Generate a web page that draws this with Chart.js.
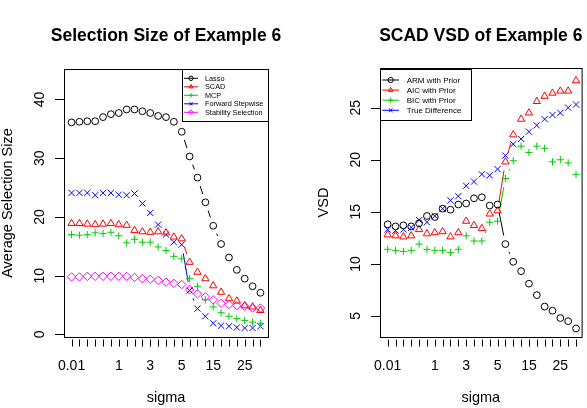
<!DOCTYPE html>
<html>
<head>
<meta charset="utf-8">
<script src="https://cdn.jsdelivr.net/npm/chart.js@4.4.1/dist/chart.umd.min.js"></script>
<style>
  body { margin: 0; background: #fff; }
  #wrap { position: relative; width: 587px; height: 408px; }
  .panel { position: absolute; top: 0; height: 408px; }
</style>
</head>
<body>
<div id="wrap">
  <div class="panel" style="left:0;width:294px"><canvas id="sizeChart"></canvas></div>
  <div class="panel" style="left:294px;width:293px"><canvas id="vsdChart"></canvas></div>
</div>
<script>
// sigma grid (25 settings); only some labels are printed on the axis
const sigmaLabels = ['0.01', '0.05', '0.1', '0.2', '0.3', '0.5', '1', '1.5', '2', '2.5', '3', '3.5', '4', '4.5',
  '5', '7.5', '10', '12.5', '15', '17.5', '20', '22.5', '25', '27.5', '30'];
const shownSigma = ['0.01', '1', '3', '5', '15', '25'];

// left panel: average selection size
const lassoSize = [36.1, 36.2, 36.3, 36.3, 37.0, 37.5, 37.7, 38.3, 38.3, 38.0, 37.7, 37.2, 37.0, 36.2, 34.5,
  30.3, 26.7, 22.5, 18.5, 15.4, 13.1, 11.0, 9.5, 8.2, 7.1];
const scadSize = [18.9, 18.9, 18.8, 18.7, 18.8, 18.9, 18.7, 18.6, 17.7, 17.5, 17.4, 17.5, 17.3, 16.6, 16.3,
  12.3, 10.6, 9.5, 8.3, 7.2, 6.1, 5.7, 4.9, 4.7, 4.1];
const mcpSize = [17.0, 16.9, 17.0, 17.3, 17.2, 17.4, 16.8, 15.6, 16.2, 15.7, 15.7, 14.9, 14.3, 13.3, 12.9,
  9.5, 8.2, 5.9, 4.7, 3.7, 3.1, 2.7, 2.4, 2.1, 1.9];
const stepwiseSize = [24.1, 24.1, 24.1, 23.7, 24.1, 24.1, 23.8, 23.7, 24.0, 22.3, 20.7, 18.7, 17.0, 15.7, 15.3,
  7.5, 4.4, 3.1, 1.9, 1.5, 1.4, 1.2, 1.1, 1.1, 1.4];
const stabilitySize = [9.8, 9.8, 9.9, 9.9, 9.9, 9.9, 9.9, 9.9, 9.7, 9.5, 9.4, 9.2, 8.9, 8.7, 8.5,
  7.6, 6.9, 6.4, 5.9, 5.3, 5.1, 4.9, 4.8, 4.5, 4.5];
const sizeTicks = [0, 10, 20, 30, 40];

// right panel: SCAD VSD
const armVsd = [13.8, 13.6, 13.7, 13.6, 13.9, 14.6, 14.5, 15.3, 15.2, 15.7, 15.8, 16.3, 16.4, 15.6, 15.7,
  11.9, 10.2, 9.3, 8.1, 7.0, 5.9, 5.5, 4.8, 4.5, 3.8];
const aicVsd = [12.8, 12.7, 12.6, 12.7, 13.3, 12.9, 13.0, 13.1, 12.6, 13.0, 14.1, 13.7, 13.4, 14.8, 15.1,
  19.8, 22.4, 23.9, 24.5, 25.6, 26.1, 26.4, 26.6, 26.6, 27.6];
const bicVsd = [11.4, 11.3, 11.2, 11.3, 11.9, 11.4, 11.3, 11.3, 11.1, 11.4, 12.7, 12.2, 12.2, 14.0, 14.1,
  18.2, 19.9, 21.3, 20.7, 21.3, 21.1, 19.8, 20.0, 19.7, 18.6];
const trueDiffVsd = [13.3, 13.2, 13.3, 13.5, 14.2, 14.0, 14.6, 15.3, 16.1, 16.5, 17.5, 17.9, 18.6, 18.5, 19.1,
  20.4, 21.5, 22.0, 22.7, 23.3, 23.9, 24.3, 24.5, 25.0, 25.3];
const vsdTicks = [5, 10, 15, 20, 25];

const FONT = '"Liberation Sans", Arial, sans-serif';

const toXY = (values) => values.map((y, i) => ({ x: i, y }));

function series(label, values, color, pointStyle, pointRadius) {
  return {
    label,
    data: toXY(values),
    borderColor: color,
    pointStyle,
    pointRadius,
    pointHoverRadius: pointRadius,
    pointBorderColor: color,
    pointBackgroundColor: 'rgba(0,0,0,0)',
    pointBorderWidth: 1,
    showLine: false,
  };
}

function drawMarker(ctx, style, x, y, r) {
  ctx.beginPath();
  if (style === 'circle') {
    ctx.arc(x, y, r, 0, Math.PI * 2);
  } else if (style === 'triangle') {
    ctx.moveTo(x, y - r);
    ctx.lineTo(x + r * 0.866, y + r * 0.5);
    ctx.lineTo(x - r * 0.866, y + r * 0.5);
    ctx.closePath();
  } else if (style === 'cross') {
    ctx.moveTo(x - r, y); ctx.lineTo(x + r, y);
    ctx.moveTo(x, y - r); ctx.lineTo(x, y + r);
  } else if (style === 'crossRot') {
    const d = r * 0.707;
    ctx.moveTo(x - d, y - d); ctx.lineTo(x + d, y + d);
    ctx.moveTo(x - d, y + d); ctx.lineTo(x + d, y - d);
  } else if (style === 'rectRot') {
    ctx.moveTo(x, y - r); ctx.lineTo(x + r, y);
    ctx.lineTo(x, y + r); ctx.lineTo(x - r, y);
    ctx.closePath();
  }
  ctx.stroke();
}

function vText(ctx, text, x, y) {
  ctx.save();
  ctx.translate(x, y);
  ctx.rotate(-Math.PI / 2);
  ctx.fillText(text, 0, 0);
  ctx.restore();
}

// base-graphics look: type="b" gapped segments, box, outside ticks, legend
const rPlot = {
  id: 'rPlot',
  beforeDatasetsDraw(chart) {
    const ctx = chart.ctx;
    const gap = 8.7;
    chart.data.datasets.forEach((ds, i) => {
      const pts = chart.getDatasetMeta(i).data;
      ctx.save();
      ctx.strokeStyle = ds.borderColor;
      ctx.lineWidth = 1;
      for (let k = 1; k < pts.length; k++) {
        const a = pts[k - 1];
        const b = pts[k];
        const dx = b.x - a.x;
        const dy = b.y - a.y;
        const f = gap / Math.hypot(dx, dy);
        if (f < 0.5) {
          ctx.beginPath();
          ctx.moveTo(a.x + f * dx, a.y + f * dy);
          ctx.lineTo(b.x - f * dx, b.y - f * dy);
          ctx.stroke();
        }
      }
      ctx.restore();
    });
  },
  afterDraw(chart, args, opts) {
    const ctx = chart.ctx;
    const { left, right, top, bottom } = chart.chartArea;
    const xs = chart.scales.x;
    const ys = chart.scales.y;
    ctx.save();
    ctx.strokeStyle = '#000';
    ctx.fillStyle = '#000';
    ctx.lineWidth = 1;

    // legend
    const lg = opts.legend;
    ctx.fillStyle = '#fff';
    ctx.fillRect(lg.x0, lg.y0, lg.x1 - lg.x0, lg.y1 - lg.y0);
    ctx.strokeRect(lg.x0 + 0.5, lg.y0 + 0.5, lg.x1 - lg.x0, lg.y1 - lg.y0);
    ctx.font = lg.font + 'px ' + FONT;
    ctx.textAlign = 'left';
    ctx.textBaseline = 'middle';
    chart.data.datasets.forEach((ds, i) => {
      const y = lg.rowY + i * lg.rowStep;
      ctx.strokeStyle = ds.borderColor;
      ctx.beginPath();
      ctx.moveTo(lg.lineX0, y);
      ctx.lineTo(lg.lineX1, y);
      ctx.stroke();
      drawMarker(ctx, ds.pointStyle, (lg.lineX0 + lg.lineX1) / 2, y, lg.r);
      ctx.fillStyle = '#000';
      ctx.fillText(ds.label, lg.textX, y + 0.5);
    });

    // box
    ctx.strokeStyle = '#000';
    ctx.strokeRect(left + 0.5, top + 0.5, right - left, bottom - top);

    // x axis
    ctx.font = '14px ' + FONT;
    ctx.textAlign = 'center';
    ctx.textBaseline = 'alphabetic';
    ctx.fillStyle = '#000';
    ctx.beginPath();
    sigmaLabels.forEach((lab, i) => {
      const px = Math.round(xs.getPixelForValue(i)) + 0.5;
      ctx.moveTo(px, bottom + 2.5);
      ctx.lineTo(px, bottom + 9.5);
    });
    ctx.stroke();
    sigmaLabels.forEach((lab, i) => {
      if (shownSigma.includes(lab)) ctx.fillText(lab, xs.getPixelForValue(i), bottom + 32.5);
    });
    ctx.font = '14.5px ' + FONT;
    ctx.fillText('sigma', (left + right) / 2, bottom + 65);

    // y axis
    ctx.font = '14px ' + FONT;
    ctx.beginPath();
    opts.yTicks.forEach((v) => {
      const py = Math.round(ys.getPixelForValue(v)) + 0.5;
      ctx.moveTo(left - 9, py);
      ctx.lineTo(left, py);
    });
    ctx.stroke();
    opts.yTicks.forEach((v) => vText(ctx, String(v), left - 20.5, ys.getPixelForValue(v)));
    ctx.font = '14.5px ' + FONT;
    vText(ctx, opts.yTitle, left - 52.5, (top + bottom) / 2);

    // title
    ctx.font = 'bold 17.5px ' + FONT;
    ctx.fillText(opts.title, (left + right) / 2, 40.5);
    ctx.restore();
  },
};

function makeChart(id, datasets, pad, xRange, yRange, plotOpts) {
  return new Chart(document.getElementById(id), {
    type: 'line',
    data: { datasets },
    options: {
      responsive: true,
      maintainAspectRatio: false,
      animation: false,
      events: [],
      layout: { padding: pad },
      scales: {
        x: { type: 'linear', display: false, min: xRange[0], max: xRange[1] },
        y: { type: 'linear', display: false, min: yRange[0], max: yRange[1] },
      },
      plugins: {
        legend: { display: false },
        tooltip: { enabled: false },
        rPlot: plotOpts,
      },
    },
    plugins: [rPlot],
  });
}

makeChart('sizeChart', [
  series('Lasso', lassoSize, '#000000', 'circle', 3.4),
  series('SCAD', scadSize, '#FF0000', 'triangle', 4.2),
  series('MCP', mcpSize, '#00CD00', 'cross', 3.6),
  series('Forward Stepwise', stepwiseSize, '#0000FF', 'crossRot', 4.4),
  series('Stability Selection', stabilitySize, '#FF00FF', 'rectRot', 4.2),
], { left: 64, right: 26, top: 69, bottom: 71 }, [-0.96, 24.96], [-0.43, 45.19], {
  title: 'Selection Size of Example 6',
  yTitle: 'Average Selection Size',
  yTicks: sizeTicks,
  legend: { x0: 182, y0: 69, x1: 268, y1: 121, rowY: 78.3, rowStep: 8.5, lineX0: 184, lineX1: 198, textX: 205, font: 7.3, r: 2.2 },
});

makeChart('vsdChart', [
  series('ARM with Prior', armVsd, '#000000', 'circle', 3.4),
  series('AIC with Prior', aicVsd, '#FF0000', 'triangle', 4.2),
  series('BIC with Prior', bicVsd, '#00CD00', 'cross', 3.6),
  series('True Difference', trueDiffVsd, '#0000FF', 'crossRot', 4.4),
], { left: 86, right: 5, top: 68, bottom: 71 }, [-0.98, 24.71], [2.98, 28.81], {
  title: 'SCAD VSD of Example 6',
  yTitle: 'VSD',
  yTicks: vsdTicks,
  legend: { x0: 86, y0: 69, x1: 177, y1: 120, rowY: 80, rowStep: 10.1, lineX0: 88.3, lineX1: 105, textX: 112.7, font: 8, r: 2.6 },
});
</script>
</body>
</html>
